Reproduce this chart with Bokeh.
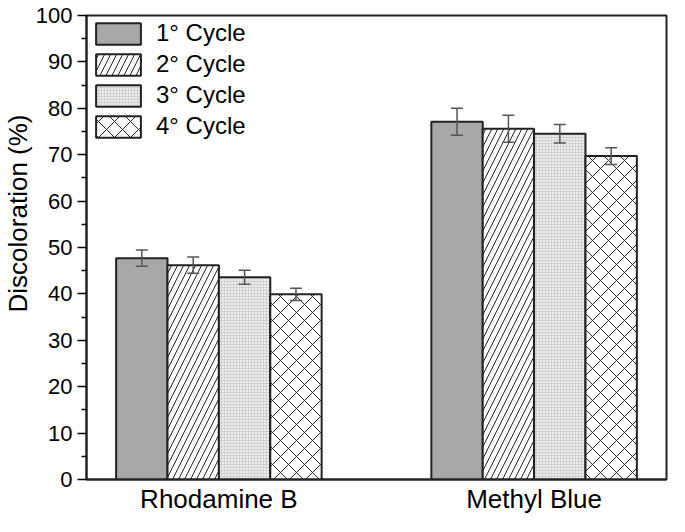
from bokeh.plotting import figure
from bokeh.models import Range1d, FixedTicker, ColumnDataSource, Whisker, TeeHead, Legend, LegendItem, Title
from bokeh.embed import file_html
from bokeh.resources import INLINE

categories = ["Rhodamine B", "Methyl Blue"]
cycles = ["1° Cycle", "2° Cycle", "3° Cycle", "4° Cycle"]
cycle1 = [47.7, 77.1]
cycle2 = [46.2, 75.6]
cycle3 = [43.6, 74.5]
cycle4 = [39.9, 69.7]
err1 = [1.75, 2.9]
err2 = [1.75, 2.9]
err3 = [1.5, 2.0]
err4 = [1.3, 1.8]
y_ticks = list(range(0, 101, 10))
y_label = "Discoloration (%)"

values = [cycle1, cycle2, cycle3, cycle4]
errors = [err1, err2, err3, err4]

FONT = "Liberation Sans"

p = figure(width=669, height=516, min_border_left=84, min_border_top=15,
           min_border_right=3, min_border_bottom=32,
           x_range=Range1d(0.58, 2.42), y_range=Range1d(0, 100),
           output_backend="svg", toolbar_location=None)
p.grid.visible = False
p.outline_line_color = "#222222"
p.outline_line_width = 2
p.background_fill_color = "white"
p.border_fill_color = "white"

bw = 0.163
offsets = [-1.5 * bw, -0.5 * bw, 0.5 * bw, 1.5 * bw]
styles = [
    dict(fill_color="#a8a8a8"),
    dict(fill_color="white", hatch_pattern="/", hatch_color="#222222", hatch_scale=12, hatch_weight=1),
    dict(fill_color="#ededed", hatch_pattern="+", hatch_color="#d0d0d0", hatch_scale=3, hatch_weight=1),
    dict(fill_color="white", hatch_pattern="x", hatch_color="#222222", hatch_scale=16, hatch_weight=1),
]

xs_base = [1, 2]
items = []
for i in range(4):
    xs = [x + offsets[i] for x in xs_base]
    src = ColumnDataSource(dict(x=xs, top=values[i],
                                upper=[v + e for v, e in zip(values[i], errors[i])],
                                lower=[v - e for v, e in zip(values[i], errors[i])]))
    r = p.vbar(x="x", top="top", width=bw, bottom=0, source=src,
               line_color="#222222", line_width=2, **styles[i])
    items.append(LegendItem(label=cycles[i], renderers=[r]))
    w = Whisker(base="x", upper="upper", lower="lower", source=src, level="overlay",
                line_color="#555555", line_width=1.5,
                upper_head=TeeHead(size=12, line_color="#555555", line_width=1.5),
                lower_head=TeeHead(size=12, line_color="#555555", line_width=1.5))
    p.add_layout(w)

legend = Legend(items=items, location="top_left", glyph_width=56, glyph_height=27,
                label_text_font=FONT, label_text_font_size="24px", label_standoff=10,
                label_text_color="black",
                label_height=27, spacing=3, padding=0, margin=4, border_line_color=None,
                background_fill_alpha=0)
p.add_layout(legend)

# axes
xa = p.xaxis[0]
xa.ticker = FixedTicker(ticks=xs_base)
xa.major_label_overrides = {1: categories[0], 2: categories[1]}
xa.major_tick_out = 0
xa.major_tick_in = 0
xa.minor_tick_out = 0
xa.axis_line_width = 2
xa.axis_line_color = "#222222"
xa.major_label_text_font = FONT
xa.major_label_text_font_size = "26px"
xa.major_label_text_color = "black"
xa.major_label_standoff = 4

ya = p.yaxis[0]
ya.ticker = FixedTicker(ticks=y_ticks, minor_ticks=list(range(5, 100, 10)))
ya.major_tick_out = 9
ya.major_tick_in = 0
ya.minor_tick_out = 5
ya.minor_tick_in = 0
ya.major_tick_line_width = 1.5
ya.minor_tick_line_width = 1.5
ya.axis_line_width = 2
ya.axis_line_color = "#222222"
ya.major_label_text_font = FONT
ya.major_label_text_font_size = "22px"
ya.major_label_text_color = "black"
ya.major_label_standoff = 5

ytitle = Title(text=y_label, align="right", offset=99, text_font=FONT,
               text_font_size="26px", text_font_style="normal", text_color="black",
               standoff=0)
p.add_layout(ytitle, "left")

open("out.html", "w").write(file_html(p, INLINE))
